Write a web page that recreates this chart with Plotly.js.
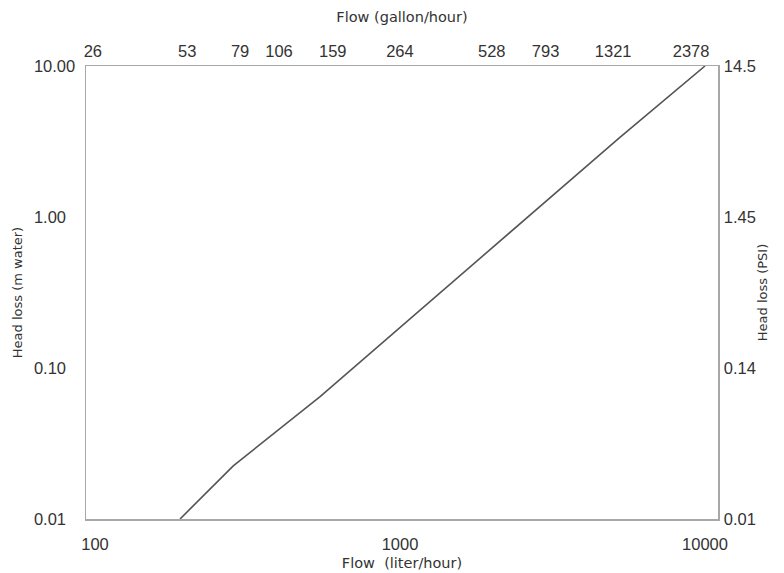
<!DOCTYPE html>
<html>
<head>
<meta charset="utf-8">
<script src="https://cdn.plot.ly/plotly-3.0.1.min.js"></script>
<style>
html, body { margin: 0; padding: 0; background: #ffffff; }
#chart { width: 784px; height: 573px; }
</style>
</head>
<body>
<div id="chart"></div>
<script>
// Flow in liter/hour and head loss in m water
const flowLiterHour = [190, 284, 547, 1160, 2470, 5260, 10000];
const headLossM     = [0.01, 0.0225, 0.0646, 0.241, 0.899, 3.37, 10];

// Bottom axis ticks (liter/hour)
const flowTicks = [100, 1000, 10000];
const flowTickText = ['100', '1000', '10000'];

// Top axis ticks (gallon/hour)
const gallonTicks = [26, 53, 79, 106, 159, 264, 528, 793, 1321, 2378];
const gallonTickText = ['26', '53', '79', '106', '159', '264', '528', '793', '1321', '2378'];

// Left axis ticks (m water)
const headTicks = [0.01, 0.1, 1, 10];
const headTickText = ['0.01\u2007', '0.10\u2007', '1.00\u2007', '10.00'];

// Right axis tick labels (PSI), placed at the same heights as the left ticks
const psiTickText = ['0.01', '0.14', '1.45', '14.5'];

const LITER_PER_GALLON = 3.785;
const xLogRange = [1.9705, 4.0426];
const x2LogRange = xLogRange.map(v => v - Math.log10(LITER_PER_GALLON));

const tickFont = { family: 'Liberation Sans, Arial, sans-serif', size: 16.5, color: '#333333' };
const titleFontTB = { family: 'DejaVu Sans, Verdana, sans-serif', size: 14.5, color: '#333333' };
const titleFontLR = { family: 'DejaVu Sans, Verdana, sans-serif', size: 13, color: '#333333' };
const axisLine = { showline: true, linecolor: '#a8a8a8', linewidth: 1.5, showgrid: false, zeroline: false, ticks: '' };

const traces = [
  {
    x: flowLiterHour,
    y: headLossM,
    type: 'scatter',
    mode: 'lines',
    line: { color: '#555555', width: 1.6 },
    hoverinfo: 'skip',
    showlegend: false
  },
  {
    x: flowLiterHour.map(v => v / LITER_PER_GALLON),
    y: headLossM,
    xaxis: 'x2',
    yaxis: 'y2',
    type: 'scatter',
    mode: 'lines',
    opacity: 0,
    line: { width: 0 },
    hoverinfo: 'skip',
    showlegend: false
  }
];

const layout = {
  width: 784,
  height: 573,
  margin: { l: 86, r: 66, t: 66, b: 54 },
  paper_bgcolor: '#ffffff',
  plot_bgcolor: '#ffffff',
  showlegend: false,
  xaxis: Object.assign({}, axisLine, {
    type: 'log',
    range: xLogRange,
    autorange: false,
    tickvals: flowTicks,
    ticktext: flowTickText,
    tickfont: tickFont,
    ticklabelstandoff: 10,
    title: { text: 'Flow\u00a0\u00a0(liter/hour)', font: titleFontTB, standoff: 5 }
  }),
  xaxis2: Object.assign({}, axisLine, {
    type: 'log',
    overlaying: 'x',
    side: 'top',
    range: x2LogRange,
    autorange: false,
    tickvals: gallonTicks,
    ticktext: gallonTickText,
    tickfont: tickFont,
    ticklabelstandoff: 1,
    title: { text: 'Flow (gallon/hour)', font: titleFontTB, standoff: 16 }
  }),
  yaxis: Object.assign({}, axisLine, {
    type: 'log',
    range: [-2, 1],
    autorange: false,
    tickvals: headTicks,
    ticktext: headTickText,
    tickfont: tickFont,
    ticklabelstandoff: 6,
    title: { text: 'Head loss (m water)', font: titleFontLR, standoff: 8 }
  }),
  yaxis2: Object.assign({}, axisLine, {
    type: 'log',
    overlaying: 'y',
    side: 'right',
    range: [-2, 1],
    autorange: false,
    tickvals: headTicks,
    ticktext: psiTickText,
    tickfont: tickFont,
    ticklabelstandoff: 1,
    title: { text: 'Head loss (PSI)', font: titleFontLR, standoff: 3 }
  })
};

Plotly.newPlot('chart', traces, layout, { staticPlot: true, displayModeBar: false });
</script>
</body>
</html>
